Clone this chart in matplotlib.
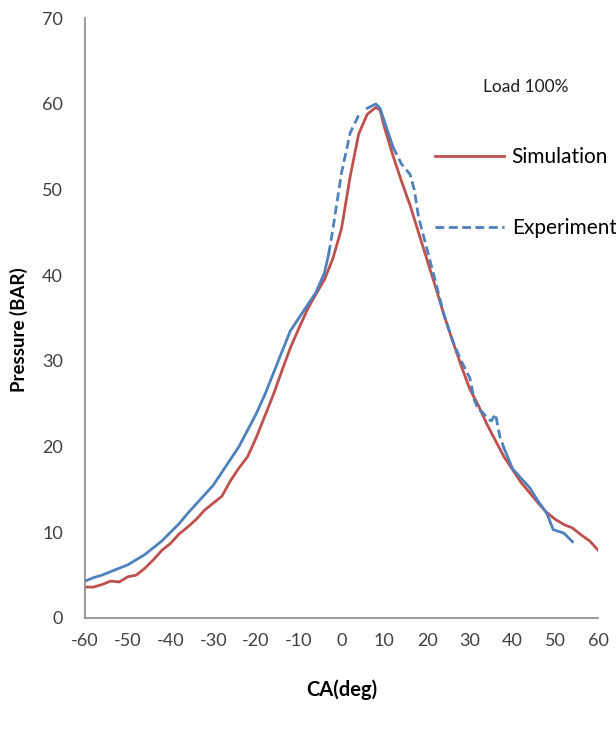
import numpy as np
import matplotlib
matplotlib.use('Agg')
import matplotlib.pyplot as plt
from matplotlib.lines import Line2D

plt.rcParams['font.family'] = ['Lato', 'DejaVu Sans']
plt.rcParams['axes.unicode_minus'] = False

# simulation (red)
sim_ca = [-60, -58, -56, -54, -52, -50, -48, -46, -44, -42, -40, -38, -36, -34, -32, -30,
          -28, -26, -24, -22, -20, -18, -16, -14, -12, -10, -8, -6, -4, -2, 0, 2, 4, 6,
          8, 9, 10, 12, 14, 16, 18, 20, 22, 24, 26, 28, 30, 32, 34, 36, 38, 40, 42, 44,
          46, 48, 50, 52, 54, 56, 58, 60]
sim_p = [3.6, 3.6, 3.9, 4.3, 4.2, 4.8, 5.0, 5.8, 6.8, 7.9, 8.7, 9.8, 10.6, 11.5, 12.6, 13.4,
         14.2, 16.0, 17.5, 18.8, 21.0, 23.5, 26.0, 28.8, 31.5, 33.8, 36.0, 37.8, 39.5, 42.0,
         45.5, 51.5, 56.5, 58.8, 59.6, 59.3, 57.3, 54.0, 51.0, 48.2, 45.0, 41.8, 38.6, 35.3,
         32.3, 29.4, 26.7, 24.8, 22.6, 20.7, 18.8, 17.3, 15.8, 14.6, 13.4, 12.3, 11.5, 10.9,
         10.5, 9.7, 9.0, 7.9]

# experiment (blue)
exp_ca = [-60, -58, -56, -54, -52, -50, -48, -46, -44, -42, -40, -38, -36, -34, -32, -30,
          -28, -26, -24, -22, -20, -18, -16, -14, -12, -10, -8, -6, -4, -3, -2, 0, 2, 4,
          6, 8, 9, 10, 12, 14, 16, 17, 18, 20, 22, 24, 26, 28, 30, 31, 32, 33, 34, 35, 36,
          37, 38, 40, 42, 44, 46, 48, 49.5, 52, 54]
exp_p = [4.3, 4.7, 5.0, 5.4, 5.8, 6.2, 6.8, 7.4, 8.2, 9.0, 10.0, 11.0, 12.2, 13.3, 14.4, 15.5,
         17.0, 18.5, 20.0, 21.9, 23.8, 26.0, 28.5, 31.0, 33.5, 35.0, 36.5, 38.0, 40.3, 42.5,
         45.5, 52.0, 56.6, 58.7, 59.5, 60.0, 59.5, 58.0, 55.0, 53.0, 51.8, 50.0, 46.8, 43.0,
         39.2, 35.3, 32.3, 30.0, 28.0, 25.5, 24.3, 24.0, 23.3, 23.0, 23.8, 21.2, 19.8, 17.4,
         16.3, 15.2, 13.6, 12.2, 10.3, 9.9, 8.9]

red = '#C0504D'
blue = '#4F81BD'

fig = plt.figure(figsize=(6.16, 7.33), dpi=100)
ax = fig.add_axes([0.138, 0.157, 0.833, 0.818])

ax.plot(sim_ca, sim_p, color=red, lw=2.0, solid_joinstyle='round')

# excel draws dashes per segment, so the dense low part looks solid
ex = np.array(exp_ca)
ey = np.array(exp_p)
solid = (ex <= -3) | ((ex >= 5) & (ex <= 12)) | (ex >= 38)
dashed = ((ex >= -3) & (ex <= 5)) | ((ex >= 12) & (ex <= 38))
ax.plot(ex, np.where(solid, ey, np.nan), color=blue, lw=2.0)
ax.plot(ex, np.where(dashed, ey, np.nan), color=blue, lw=2.0, dashes=(3.2, 1.6))

ax.set_xlim(-60, 60)
ax.set_ylim(0, 70)
ax.set_xticks(range(-60, 61, 10))
ax.set_yticks(range(0, 71, 10))
for s in ['top', 'right']:
    ax.spines[s].set_visible(False)
for s in ['left', 'bottom']:
    ax.spines[s].set_color('#888888')
    ax.spines[s].set_linewidth(1.2)
ax.tick_params(axis='both', length=0, labelsize=13, colors='#404040')
ax.tick_params(axis='y', pad=16)
ax.tick_params(axis='x', pad=11)

ax.set_ylabel('Pressure (BAR)', fontsize=13.5, fontweight='bold')
ax.yaxis.set_label_coords(-0.112, 0.48)
ax.set_xlabel('CA(deg)', fontsize=14.5, fontweight='bold', labelpad=22)

ax.text(0.858, 0.885, 'Load 100%', transform=ax.transAxes, fontsize=12.5,
        ha='center', va='center', color='#202020')

handles = [Line2D([], [], color=red, lw=2.0),
           Line2D([], [], color=blue, lw=2.0, dashes=(3.2, 1.6))]
ax.legend(handles, ['Simulation', 'Experiment'], loc='upper left',
          bbox_to_anchor=(0.682, 0.785), frameon=False, fontsize=15,
          borderaxespad=0, borderpad=0, handlelength=3.3, handletextpad=0.38,
          labelspacing=2.45)

fig.savefig('out.png', dpi=100)
